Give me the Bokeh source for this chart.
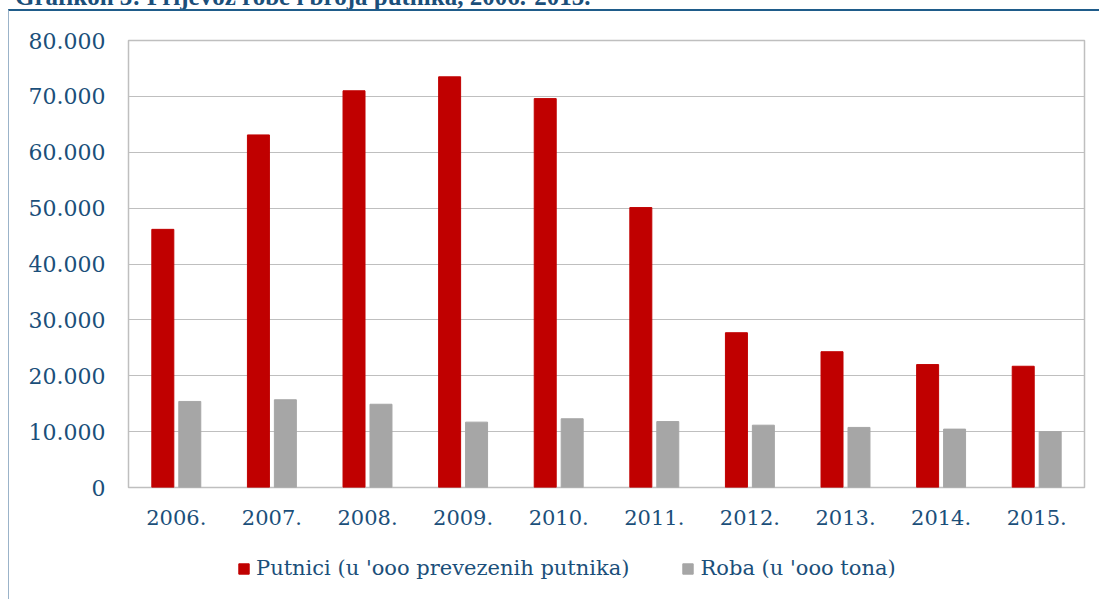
from bokeh.plotting import figure
from bokeh.models import ColumnDataSource, FactorRange, Range1d, Legend, LegendItem, FixedTicker, Div
from bokeh.layouts import column
from bokeh.transform import dodge
from bokeh.embed import file_html
from bokeh.resources import INLINE

title_text = "Grafikon 3: Prijevoz robe i broja putnika, 2006.-2015."
years = ["2006.", "2007.", "2008.", "2009.", "2010.", "2011.", "2012.", "2013.", "2014.", "2015."]
putnici = [46200, 63100, 71000, 73500, 69600, 50100, 27700, 24300, 22000, 21700]
roba = [15400, 15700, 14900, 11700, 12300, 11800, 11150, 10750, 10450, 10000]
y_ticks = [0, 10000, 20000, 30000, 40000, 50000, 60000, 70000, 80000]
y_tick_labels = ["0", "10.000", "20.000", "30.000", "40.000", "50.000", "60.000", "70.000", "80.000"]
series_names = ["Putnici (u 'ooo prevezenih putnika)", "Roba (u 'ooo tona)"]

RED = "#C00000"
GREY = "#A6A6A6"
TXT = "#1B4F7A"
FONT = "DejaVu Serif"

src = ColumnDataSource(dict(year=years, putnici=putnici, roba=roba))

p = figure(
    x_range=FactorRange(*years, range_padding=0),
    y_range=Range1d(0, 80000),
    width=1090, height=529,
    output_backend="svg", toolbar_location=None,
    min_border_left=119, min_border_right=15, min_border_top=29, min_border_bottom=53,
)

p.vbar(x=dodge("year", -0.141, range=p.x_range), top="putnici", width=0.23,
       source=src, fill_color=RED, line_color=RED)
p.vbar(x=dodge("year", 0.141, range=p.x_range), top="roba", width=0.23,
       source=src, fill_color=GREY, line_color=GREY)

p.outline_line_color = "#BFBFBF"
p.outline_line_width = 1.5
p.xgrid.grid_line_color = None
p.ygrid.grid_line_color = "#BFBFBF"
p.ygrid.grid_line_width = 1.2

p.yaxis.ticker = FixedTicker(ticks=y_ticks)
p.yaxis.major_label_overrides = {t: l for t, l in zip(y_ticks, y_tick_labels)}
for ax in (p.xaxis, p.yaxis):
    ax.axis_line_color = None
    ax.major_tick_line_color = None
    ax.minor_tick_line_color = None
    ax.major_tick_out = 0
    ax.major_tick_in = 0
    ax.minor_tick_out = 0
    ax.major_label_text_font = FONT
    ax.major_label_text_color = TXT
p.yaxis.major_label_text_font_size = "22px"
p.xaxis.major_label_text_font_size = "21px"
p.yaxis.major_label_standoff = 23
p.xaxis.major_label_standoff = 22

# legend strip below the chart
q = figure(width=1090, height=59, output_backend="svg", toolbar_location=None,
           x_range=Range1d(0, 1), y_range=Range1d(0, 1),
           min_border_left=119, min_border_right=15, min_border_top=0, min_border_bottom=0)
q.axis.visible = False
q.grid.visible = False
q.outline_line_color = None
nan = float("nan")
g1 = q.vbar(x=[nan], top=[nan], width=0.1, fill_color=RED, line_color=RED)
g2 = q.vbar(x=[nan], top=[nan], width=0.1, fill_color=GREY, line_color=GREY)
legend = Legend(
    items=[LegendItem(label=series_names[0], renderers=[g1]),
           LegendItem(label=series_names[1], renderers=[g2])],
    orientation="horizontal", location=(109, 19),
    glyph_width=13, glyph_height=13, label_standoff=6, spacing=52,
    padding=0, margin=0, border_line_color=None, background_fill_alpha=0,
    label_text_font=FONT, label_text_font_size="21px", label_text_color=TXT,
)
q.add_layout(legend, "center")

title = Div(
    text=('<div style="position:absolute; left:7px; top:-16px; white-space:nowrap; '
          'font-family:\'Liberation Serif\'; font-weight:bold; font-size:25px; '
          'line-height:25px; color:#1B4F7A;">' + title_text + '</div>'),
    width=1092, height=9, margin=0,
    styles={"overflow": "hidden", "position": "relative"},
)

inner = column(p, q, spacing=0)
inner.styles = {"border-top": "2px solid #1F5C8A", "border-left": "1px solid #9BB3C9"}

layout = column(title, inner, spacing=0)
layout.styles = {"margin-left": "8px"}

open("out.html", "w").write(file_html(layout, INLINE))
